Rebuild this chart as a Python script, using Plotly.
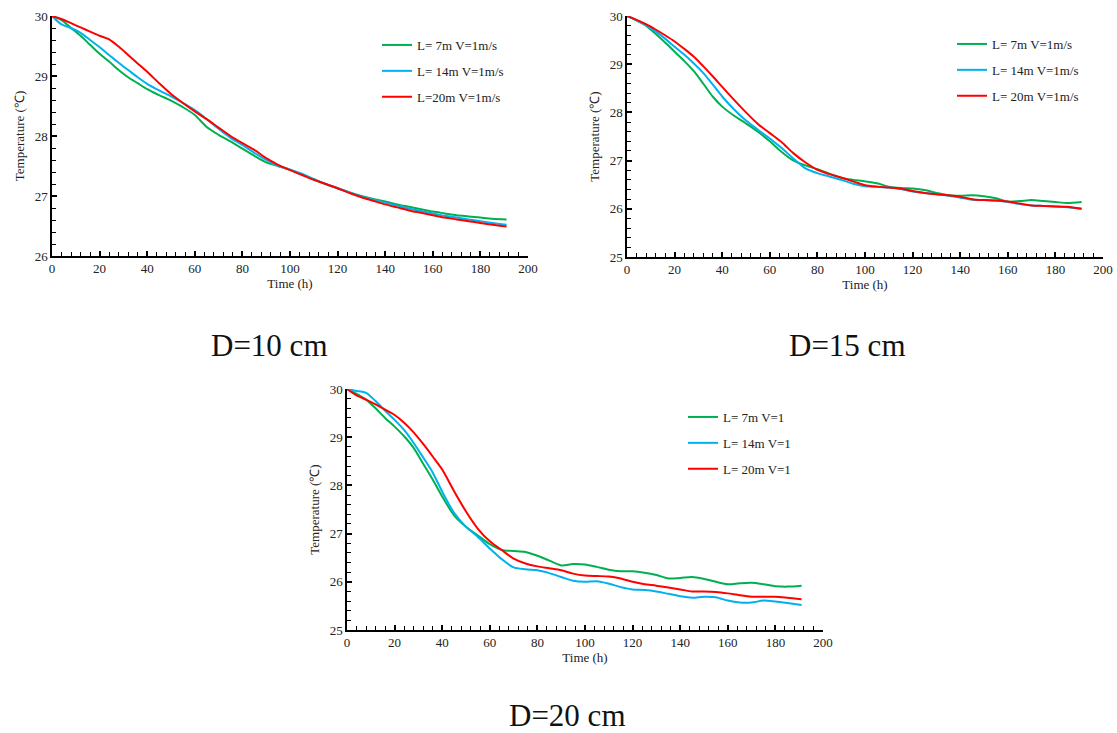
import plotly.graph_objects as go

# Time grid (h) shared by all series
hours = [0, 4, 8, 12, 16, 20, 24, 28, 32, 36, 40, 45, 50, 55, 60, 65, 70, 75, 80, 85,
         90, 95, 100, 105, 110, 115, 120, 125, 130, 135, 140, 145, 150, 155, 160, 165,
         170, 175, 180, 185, 191]

# D = 10 cm
d10_l7 = [30.00, 29.93, 29.80, 29.67, 29.52, 29.37, 29.24, 29.10, 28.98, 28.88, 28.78,
          28.68, 28.59, 28.48, 28.35, 28.15, 28.02, 27.91, 27.79, 27.67, 27.56, 27.50,
          27.44, 27.36, 27.28, 27.20, 27.13, 27.06, 27.00, 26.95, 26.91, 26.86, 26.82,
          26.78, 26.74, 26.71, 26.68, 26.66, 26.64, 26.62, 26.61]
d10_l14 = [30.00, 29.86, 29.80, 29.72, 29.60, 29.48, 29.35, 29.22, 29.10, 28.98, 28.87,
           28.76, 28.66, 28.55, 28.43, 28.28, 28.12, 27.97, 27.85, 27.72, 27.60, 27.50,
           27.44, 27.37, 27.28, 27.20, 27.13, 27.06, 26.99, 26.94, 26.89, 26.84, 26.79,
           26.75, 26.71, 26.67, 26.64, 26.61, 26.58, 26.55, 26.52]
d10_l20 = [30.00, 29.95, 29.88, 29.81, 29.74, 29.67, 29.61, 29.49, 29.35, 29.21, 29.07,
           28.88, 28.70, 28.55, 28.41, 28.28, 28.14, 28.00, 27.88, 27.77, 27.63, 27.52,
           27.43, 27.35, 27.27, 27.20, 27.13, 27.05, 26.98, 26.92, 26.86, 26.81, 26.76,
           26.72, 26.68, 26.64, 26.61, 26.58, 26.55, 26.52, 26.49]

# D = 15 cm
d15_l7 = [30.00, 29.91, 29.80, 29.63, 29.45, 29.26, 29.07, 28.86, 28.60, 28.33, 28.12,
          27.93, 27.77, 27.60, 27.40, 27.18, 27.00, 26.90, 26.82, 26.73, 26.64, 26.60,
          26.57, 26.53, 26.46, 26.43, 26.42, 26.39, 26.33, 26.28, 26.27, 26.28, 26.26,
          26.22, 26.15, 26.16, 26.18, 26.16, 26.14, 26.12, 26.14]
d15_l14 = [30.00, 29.91, 29.81, 29.68, 29.53, 29.36, 29.20, 29.02, 28.82, 28.58, 28.33,
           28.06, 27.83, 27.64, 27.46, 27.26, 27.04, 26.84, 26.74, 26.67, 26.60, 26.52,
           26.47, 26.46, 26.44, 26.41, 26.36, 26.33, 26.30, 26.27, 26.23, 26.19, 26.18,
           26.17, 26.14, 26.10, 26.07, 26.06, 26.05, 26.03, 26.00]
d15_l20 = [30.00, 29.92, 29.83, 29.72, 29.60, 29.47, 29.32, 29.16, 28.96, 28.75, 28.53,
           28.26, 28.00, 27.76, 27.57, 27.38, 27.15, 26.96, 26.81, 26.72, 26.65, 26.57,
           26.49, 26.46, 26.44, 26.42, 26.37, 26.33, 26.30, 26.28, 26.25, 26.20, 26.18,
           26.17, 26.15, 26.11, 26.07, 26.06, 26.05, 26.04, 26.00]

# D = 20 cm
d20_l7 = [30.00, 29.90, 29.78, 29.60, 29.40, 29.22, 29.02, 28.78, 28.45, 28.12, 27.77,
          27.38, 27.14, 26.96, 26.78, 26.66, 26.64, 26.62, 26.54, 26.44, 26.34, 26.37,
          26.36, 26.31, 26.25, 26.22, 26.22, 26.19, 26.14, 26.07, 26.08, 26.10, 26.06,
          26.00, 25.95, 25.97, 25.98, 25.95, 25.91, 25.90, 25.92]
d20_l14 = [30.00, 29.96, 29.92, 29.75, 29.55, 29.36, 29.15, 28.88, 28.58, 28.27, 27.87,
           27.43, 27.14, 26.93, 26.69, 26.47, 26.30, 26.26, 26.24, 26.18, 26.10, 26.02,
           26.00, 26.01, 25.96, 25.89, 25.84, 25.83, 25.80, 25.75, 25.70, 25.67, 25.69,
           25.68, 25.61, 25.57, 25.57, 25.61, 25.59, 25.56, 25.52]
d20_l20 = [30.00, 29.87, 29.78, 29.68, 29.57, 29.46, 29.30, 29.10, 28.86, 28.60, 28.33,
           27.88, 27.46, 27.10, 26.84, 26.66, 26.48, 26.38, 26.32, 26.28, 26.24, 26.17,
           26.13, 26.12, 26.11, 26.07, 26.00, 25.95, 25.92, 25.88, 25.84, 25.80, 25.80,
           25.79, 25.76, 25.72, 25.69, 25.69, 25.69, 25.67, 25.64]

labels_10 = ["L= 7m V=1m/s", "L= 14m V=1m/s", "L=20m V=1m/s"]
labels_15 = ["L= 7m V=1m/s", "L= 14m V=1m/s", "L= 20m V=1m/s"]
labels_20 = ["L= 7m V=1", "L= 14m V=1", "L= 20m V=1"]
captions = ["D=10 cm", "D=15 cm", "D=20 cm"]

colors = ["#00B050", "#00B0F0", "#FF0000"]
FONT = "Liberation Serif"
W, H = 1117, 733

panels = [
    dict(series=[d10_l7, d10_l14, d10_l20], labels=labels_10, ax="", leg="legend",
         x0=52, x1=528, y0=16, y1=256, yr=[26, 30], legx=377, legy=30,
         cap=(269, 345)),
    dict(series=[d15_l7, d15_l14, d15_l20], labels=labels_15, ax="2", leg="legend2",
         x0=627, x1=1103, y0=16, y1=257, yr=[25, 30], legx=952, legy=29,
         cap=(847, 345)),
    dict(series=[d20_l7, d20_l14, d20_l20], labels=labels_20, ax="3", leg="legend3",
         x0=347, x1=823, y0=389, y1=630, yr=[25, 30], legx=683, legy=402,
         cap=(567, 715)),
]

fig = go.Figure()
layout = dict(
    width=W, height=H, margin=dict(l=0, r=0, t=0, b=0, autoexpand=False),
    paper_bgcolor="white", plot_bgcolor="white",
    font=dict(family=FONT, size=13, color="#222222"),
    annotations=[],
)

for p_i, p in enumerate(panels):
    for s_i, ys in enumerate(p["series"]):
        fig.add_trace(go.Scatter(
            x=hours, y=ys, mode="lines", name=p["labels"][s_i],
            line=dict(color=colors[s_i], width=2, shape="spline", smoothing=0.8),
            xaxis="x" + p["ax"], yaxis="y" + p["ax"], legend=p["leg"],
            legendgroup=f"{p_i}-{s_i}",
        ))
    xdom = [p["x0"] / W, p["x1"] / W]
    ydom = [1 - p["y1"] / H, 1 - p["y0"] / H]
    layout["xaxis" + p["ax"]] = dict(
        domain=xdom, range=[0, 200], dtick=20, anchor="y" + p["ax"], automargin=False,
        showline=True, linecolor="black", linewidth=1.5, showgrid=False,
        zeroline=False, ticks="inside", ticklen=5, tickwidth=1.5, tickcolor="black",
        minor=dict(dtick=4, ticks="inside", ticklen=4, tickwidth=1.2,
                   tickcolor="black", showgrid=False),
        tickfont=dict(family=FONT, size=13, color="#222222"),
        title=dict(text="Time (h)", font=dict(family=FONT, size=13), standoff=4),
    )
    layout["yaxis" + p["ax"]] = dict(
        domain=ydom, range=p["yr"], dtick=1, anchor="x" + p["ax"], automargin=False,
        showline=True, linecolor="black", linewidth=1.5, showgrid=False,
        zeroline=False, ticks="inside", ticklen=5, tickwidth=1.5, tickcolor="black",
        minor=dict(dtick=0.2, ticks="inside", ticklen=4, tickwidth=1.2,
                   tickcolor="black", showgrid=False),
        tickfont=dict(family=FONT, size=13, color="#222222"),
        title=dict(text="Temperature (℃)", font=dict(family=FONT, size=13), standoff=7),
    )
    layout[p["leg"]] = dict(
        x=p["legx"] / W, y=1 - p["legy"] / H, xanchor="left", yanchor="top",
        bgcolor="rgba(0,0,0,0)", font=dict(family=FONT, size=13, color="#222222"),
        tracegroupgap=6, itemwidth=30,
    )
    layout["annotations"].append(dict(
        text=captions[p_i],
        x=p["cap"][0] / W, y=1 - p["cap"][1] / H, xref="paper", yref="paper",
        xanchor="center", yanchor="middle", showarrow=False, borderpad=0,
        font=dict(family=FONT, size=31, color="#111111"),
    ))

fig.update_layout(**layout)
fig.write_html("out.html")
